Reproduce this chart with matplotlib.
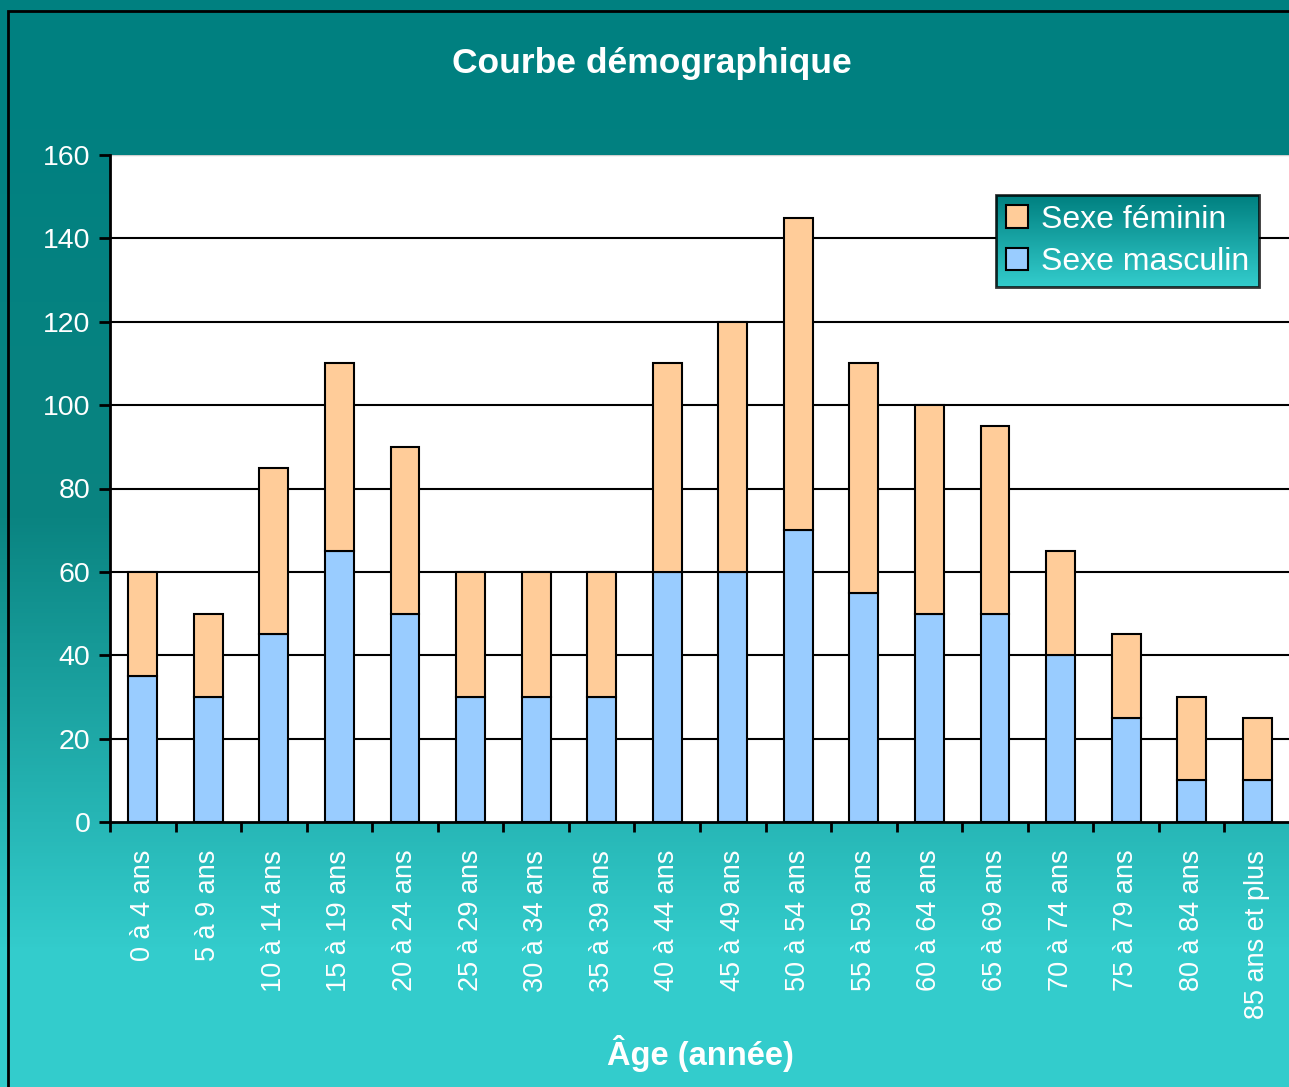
import numpy as np
import matplotlib
matplotlib.use('Agg')
import matplotlib.pyplot as plt
from matplotlib.colors import LinearSegmentedColormap
from matplotlib.patches import Rectangle

plt.rcParams['font.family'] = ['Liberation Sans', 'DejaVu Sans']

# données
tranches = ['0 à 4 ans', '5 à 9 ans', '10 à 14 ans', '15 à 19 ans', '20 à 24 ans',
            '25 à 29 ans', '30 à 34 ans', '35 à 39 ans', '40 à 44 ans', '45 à 49 ans',
            '50 à 54 ans', '55 à 59 ans', '60 à 64 ans', '65 à 69 ans', '70 à 74 ans',
            '75 à 79 ans', '80 à 84 ans', '85 ans et plus']
masculin = [35, 30, 45, 65, 50, 30, 30, 30, 60, 60, 70, 55, 50, 50, 40, 25, 10, 10]
feminin = [25, 20, 40, 45, 40, 30, 30, 30, 50, 60, 75, 55, 50, 45, 25, 20, 20, 15]
y_ticks = [0, 20, 40, 60, 80, 100, 120, 140, 160]

W, H = 1289, 1087
fig = plt.figure(figsize=(W / 100, H / 100), dpi=100)

# fond en dégradé
fond = LinearSegmentedColormap.from_list('fond', ['#008080', '#0A8481', '#33CCCC'])
bg = fig.add_axes([0, 0, 1, 1], zorder=0)
yy = np.arange(H)
g = np.clip((yy - 85) / (950 - 85), 0, 1)
g[yy < 85] = 0
bg.imshow(g[:, None], aspect='auto', cmap=fond, extent=[0, 1, 0, 1], origin='upper', vmin=0, vmax=1)
bg.set_axis_off()
fig.patches.append(Rectangle((8 / W, -0.01), 1.0, 1 - 11 / H + 0.01, transform=fig.transFigure,
                             fill=False, edgecolor='black', linewidth=2, zorder=1))

ax = fig.add_axes([110 / W, (H - 822) / H, 1180 / W, 667 / H], zorder=2)
ax.set_facecolor('white')
x = np.arange(len(tranches))
ax.bar(x, masculin, width=0.44, color='#99CCFF', edgecolor='black', linewidth=1.5,
       label='Sexe masculin', zorder=3)
ax.bar(x, feminin, width=0.44, bottom=masculin, color='#FFCC99', edgecolor='black',
       linewidth=1.5, label='Sexe féminin', zorder=3)

ax.set_xlim(-0.5, len(tranches) - 0.5)
ax.set_ylim(0, 160)
for v in y_ticks[1:-1]:
    ax.axhline(v, color='black', linewidth=1.5, zorder=1)

ax.set_yticks(y_ticks)
ax.tick_params(axis='y', colors='black', labelcolor='white', labelsize=20.5, length=8, width=2, pad=6)
ax.set_xticks(x)
ax.set_xticklabels(tranches, rotation=90, color='white', fontsize=19.5)
ax.set_xticks(np.arange(len(tranches) + 1) - 0.5, minor=True)
ax.tick_params(axis='x', which='major', length=0, pad=20)
ax.tick_params(axis='x', which='minor', length=7, width=2, color='black')

for s in ['top', 'right']:
    ax.spines[s].set_visible(False)
ax.spines['left'].set_linewidth(2)
ax.spines['bottom'].set_linewidth(2)
ax.axhline(160, color='#D0D0D0', linewidth=1, zorder=1)

handles, labels = ax.get_legend_handles_labels()
leg = ax.legend(handles[::-1], labels[::-1], loc='upper left',
                bbox_to_anchor=(996 / W, 1 - 195 / H), bbox_transform=fig.transFigure,
                fontsize=23, frameon=True, fancybox=False, edgecolor='black',
                handlelength=0.7, handleheight=0.7, handletextpad=0.4,
                borderpad=0.3, labelspacing=0.4, borderaxespad=0)
leg.get_frame().set_facecolor('none')
leg.get_frame().set_linewidth(2)
for t in leg.get_texts():
    t.set_color('white')
leg.set_zorder(10)

fig.canvas.draw()
bb = leg.get_window_extent().transformed(fig.transFigure.inverted())
lax = fig.add_axes([bb.x0, bb.y0, bb.width, bb.height], zorder=2.5)
lcm = LinearSegmentedColormap.from_list('leg', ['#008080', '#33CCCC'])
lax.imshow(np.linspace(0, 1, 100)[:, None], aspect='auto', cmap=lcm, extent=[0, 1, 0, 1])
lax.set_axis_off()
leg.remove()
lax.add_artist(leg)
leg.set_bbox_to_anchor((996 / W, 1 - 195 / H), transform=fig.transFigure)

fig.text(652 / W, 1 - 63 / H, 'Courbe démographique', color='white', fontsize=25.5,
         fontweight='bold', ha='center', va='center')
fig.text(700 / W, 1 - 1053 / H, 'Âge (année)', color='white', fontsize=23.5,
         fontweight='bold', ha='center', va='center')

fig.savefig('out.png', dpi=100)
